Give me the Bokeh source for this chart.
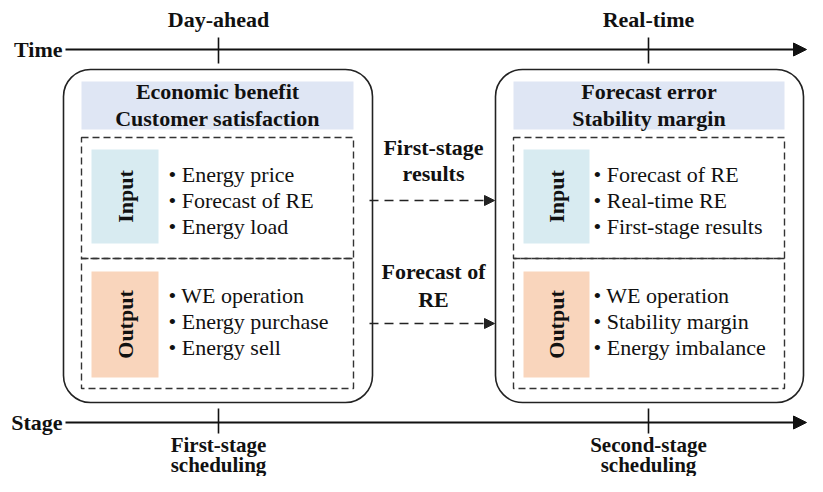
from math import pi
from bokeh.plotting import figure
from bokeh.models import Range1d, BoxAnnotation, Arrow, NormalHead
from bokeh.core.properties import value
from bokeh.embed import file_html
from bokeh.resources import INLINE

# ---------------- content ----------------
axis_names = ["Time", "Stage"]
time_points = ["Day-ahead", "Real-time"]
stage_points = [["First-stage", "scheduling"], ["Second-stage", "scheduling"]]
objectives = [["Economic benefit", "Customer satisfaction"],
              ["Forecast error", "Stability margin"]]
section_titles = ["Input", "Output"]
inputs = [["Energy price", "Forecast of RE", "Energy load"],
          ["Forecast of RE", "Real-time RE", "First-stage results"]]
outputs = [["WE operation", "Energy purchase", "Energy sell"],
           ["WE operation", "Stability margin", "Energy imbalance"]]
link_labels = [["First-stage", "results"], ["Forecast of", "RE"]]

# ---------------- layout (reference pixel coordinates) ----------------
FONT = value("Liberation Serif")
BOLD_SIZE = "22px"
REG_SIZE = "22px"
col_x = [218, 648]
box_l = [63, 495]
box_r = [372, 803]
box_t, box_b = 69, 402
hdr_l = [81, 513]
hdr_r = [353, 784]
hdr_t, hdr_b = 81, 129
dash_t, dash_m, dash_b = 137, 258, 388
lab_l = [91, 523]
lab_r = [158, 589]
in_t, in_b = 149, 243
out_t, out_b = 271, 377
bullet_x = [168, 593]
in_mid = [174, 200, 226]
out_mid = [295, 321, 347]
hdr_mid = [91, 118]
time_y, stage_y = 49, 422

p = figure(width=807, height=476, x_range=Range1d(0, 807), y_range=Range1d(476, 0),
           output_backend="svg", toolbar_location=None, min_border=0,
           x_axis_location=None, y_axis_location=None)
p.grid.visible = False
p.outline_line_color = None
p.background_fill_color = "white"


def txt(x, y, s, bold=True, align="center", angle=0.0, size=None):
    p.text(x=[x], y=[y], text=[s], text_font=FONT,
           text_font_style="bold" if bold else "normal",
           text_font_size=size or (BOLD_SIZE if bold else REG_SIZE),
           text_align=align, text_baseline="middle", angle=angle,
           text_color="#111111")


# timeline axes
for yy, name, tk in [(time_y, axis_names[0], (37, 63)), (stage_y, axis_names[1], (408, 433))]:
    p.add_layout(Arrow(x_start=65, y_start=yy, x_end=806, y_end=yy, line_width=2,
                       line_color="#111111",
                       end=NormalHead(size=13, fill_color="#111111", line_color="#111111")))
    txt(62, yy, name, align="right")
    for cx in col_x:
        p.segment(x0=[cx], y0=[tk[0]], x1=[cx], y1=[tk[1]], line_color="#111111", line_width=1.6)

for i, cx in enumerate(col_x):
    txt(cx, 19, time_points[i])
    txt(cx, 444, stage_points[i][0], size="21px")
    txt(cx, 464, stage_points[i][1], size="21px")

# boxes
for i in range(2):
    p.quad(left=[hdr_l[i]], right=[hdr_r[i]], top=[hdr_t], bottom=[hdr_b],
           fill_color="#dfe6f4", line_color=None)
    p.quad(left=[lab_l[i]], right=[lab_r[i]], top=[in_t], bottom=[in_b],
           fill_color="#d8ebf1", line_color=None)
    p.quad(left=[lab_l[i]], right=[lab_r[i]], top=[out_t], bottom=[out_b],
           fill_color="#f9d5bc", line_color=None)
    p.add_layout(BoxAnnotation(left=box_l[i], right=box_r[i], top=box_t, bottom=box_b,
                               fill_color=None, fill_alpha=0, line_color="#222222",
                               line_alpha=1.0, line_width=1.6,
                               border_radius=27, level="underlay"))
    for t, b in [(dash_t, dash_m), (dash_m, dash_b)]:
        p.add_layout(BoxAnnotation(left=hdr_l[i], right=hdr_r[i], top=t, bottom=b,
                                   fill_color=None, fill_alpha=0, line_color="#333333",
                                   line_alpha=1.0, line_width=1.4,
                                   line_dash="7 4", level="underlay"))
    for j, s in enumerate(objectives[i]):
        txt((hdr_l[i] + hdr_r[i]) / 2, hdr_mid[j], s)
    txt((lab_l[i] + lab_r[i]) / 2, (in_t + in_b) / 2, section_titles[0], angle=pi / 2)
    txt((lab_l[i] + lab_r[i]) / 2, (out_t + out_b) / 2, section_titles[1], angle=pi / 2)
    for j, s in enumerate(inputs[i]):
        txt(bullet_x[i], in_mid[j], "\u2022 " + s, bold=False, align="left")
    for j, s in enumerate(outputs[i]):
        txt(bullet_x[i], out_mid[j], "\u2022 " + s, bold=False, align="left")

# links between stages
for k, (ay, mids) in enumerate([(200, (147, 173)), (323, (271, 299))]):
    p.add_layout(Arrow(x_start=369, y_start=ay, x_end=494, y_end=ay, line_width=1.6,
                       line_dash="9 6", line_color="#222222",
                       end=NormalHead(size=10, fill_color="#222222", line_color="#222222")))
    txt(433, mids[0], link_labels[k][0])
    txt(433, mids[1], link_labels[k][1])

open("out.html", "w").write(file_html(p, INLINE))
